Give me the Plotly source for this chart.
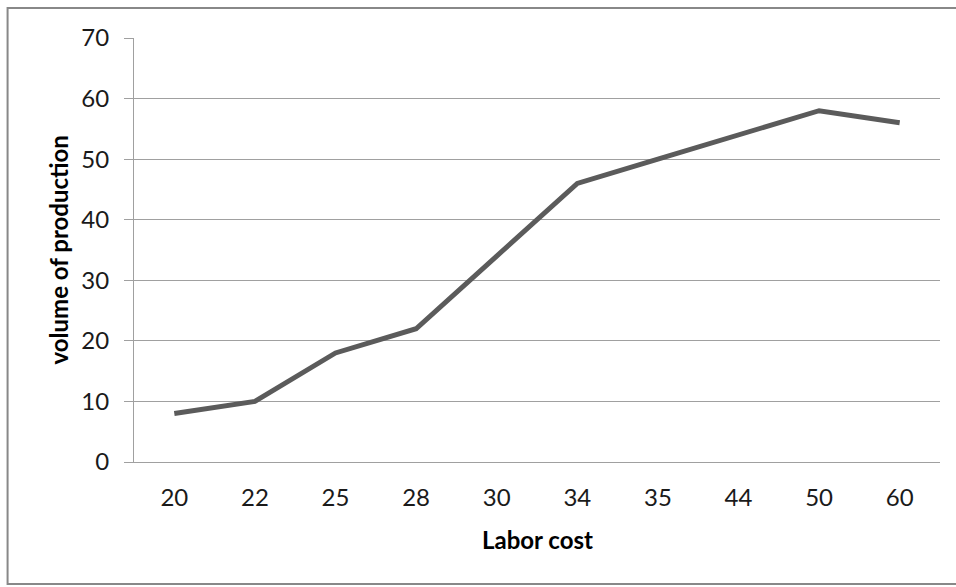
import plotly.graph_objects as go

labor_cost = ["20", "22", "25", "28", "30", "34", "35", "44", "50", "60"]
volume = [8, 10, 18, 22, 34, 46, 50, 54, 58, 56]
y_ticks = [0, 10, 20, 30, 40, 50, 60, 70]

W, H = 956, 587
L, R, T, B = 133.5, 940, 38, 462
pw, ph = R - L, B - T

def px(x):
    return (x - L) / pw

def py(y):
    return (B - y) / ph

FONT = "Lato, 'Open Sans', sans-serif"

fig = go.Figure(go.Scatter(
    x=labor_cost, y=volume, mode="lines",
    line=dict(color="#5b5b5b", width=5),
    showlegend=False, hoverinfo="x+y",
))

fig.update_layout(
    width=W, height=H,
    margin=dict(l=L, r=W - R, t=T, b=H - B, autoexpand=False),
    paper_bgcolor="white", plot_bgcolor="white",
    font=dict(family=FONT, size=24, color="#1a1a1a"),
    xaxis=dict(
        type="category", range=[-0.5, 9.5],
        showgrid=False, showline=True, linecolor="#a0a0a0", linewidth=1,
        ticks="", ticklabelstandoff=14,
        tickfont=dict(size=24, color="#1a1a1a"),
    ),
    yaxis=dict(
        range=[0, 70], tickvals=y_ticks,
        showgrid=True, gridcolor="#a0a0a0", gridwidth=1,
        zeroline=False,
        showline=True, linecolor="#a0a0a0", linewidth=1,
        ticks="outside", ticklen=9, tickcolor="#a0a0a0",
        ticklabelstandoff=10,
        tickfont=dict(size=24, color="#1a1a1a"),
    ),
    annotations=[
        dict(text="<b>Labor cost</b>", xref="paper", yref="paper",
             x=0.5, y=py(539), xanchor="center", yanchor="middle",
             showarrow=False, font=dict(size=24, family=FONT, color="#000")),
        dict(text="<b>volume of production</b>", xref="paper", yref="paper",
             x=px(57), y=0.5, xanchor="center", yanchor="middle", textangle=-90,
             showarrow=False, font=dict(size=24, family=FONT, color="#000")),
    ],
    shapes=[
        dict(type="rect", xref="paper", yref="paper",
             x0=px(7), x1=px(1100), y0=py(584), y1=py(8),
             line=dict(color="#888888", width=2), layer="below"),
    ],
)

fig.write_html("out.html", config={"displayModeBar": False},
               post_script="document.body.style.margin='0';")
